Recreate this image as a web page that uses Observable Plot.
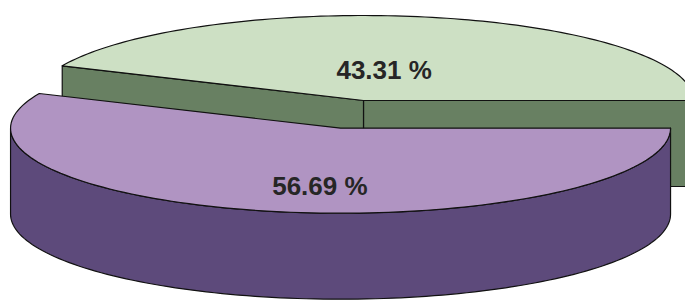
<!DOCTYPE html>
<html>
<head>
<meta charset="utf-8">
<script src="https://cdn.jsdelivr.net/npm/d3@7"></script>
<script src="https://cdn.jsdelivr.net/npm/@observablehq/plot@0.6"></script>
<style>
  html, body { margin: 0; padding: 0; background: #ffffff; }
  #chart svg { display: block; }
</style>
</head>
<body>
<div id="chart"></div>
<script>
// ---- data ----
const categories = ["A", "B"];
const values = [43.31, 56.69];
const labels = ["43.31 %", "56.69 %"];

// ---- styles ----
const topColors = ["#cde0c4", "#b094c2"];
const sideColors = ["#688062", "#5d4a7b"];
const explode = [0, 110];

// ---- layout (3D pie geometry) ----
const W = 685, H = 302;
const cx0 = 363, cy0 = 100;   // pie centre (top face)
const rx = 330, ry = 85;      // ellipse radii of the top face
const depth = 86;             // thickness of the pie

const total = d3.sum(values);
const TAU = 2 * Math.PI;

function pt(cx, cy, t, dz = 0) {
  return {x: cx + rx * Math.cos(t), y: cy - ry * Math.sin(t) + dz};
}
function arc(cx, cy, a, b, dz = 0, n = 120) {
  const pts = [];
  for (let i = 0; i <= n; i++) pts.push(pt(cx, cy, a + (b - a) * i / n, dz));
  return pts;
}

const marks = [];
let acc = 0;
values.forEach((v, i) => {
  const a = acc / total * TAU;
  acc += v;
  const b = acc / total * TAU;
  const mid = (a + b) / 2;
  const e = explode[i];
  const cx = cx0 + e * Math.cos(mid);
  const cy = cy0 - e * Math.sin(mid) * ry / rx;
  const C = {x: cx, y: cy};
  const Cd = {x: cx, y: cy + depth};
  const style = {x: "x", y: "y", fill: sideColors[i], stroke: "#111", strokeWidth: 1.2, strokeLinejoin: "round", curve: "linear-closed"};

  // radial side faces
  if (Math.cos(a) > 0) {
    const P = pt(cx, cy, a), Pd = pt(cx, cy, a, depth);
    marks.push(Plot.line([C, P, Pd, Cd], style));
  }
  if (Math.cos(b) < 0) {
    const P = pt(cx, cy, b), Pd = pt(cx, cy, b, depth);
    marks.push(Plot.line([C, P, Pd, Cd], style));
  }
  // outer curved side (front half only)
  const s = Math.max(a, Math.PI), t = Math.min(b, TAU);
  if (t > s) {
    const top = arc(cx, cy, s, t);
    const bot = arc(cx, cy, s, t, depth).reverse();
    marks.push(Plot.line([...top, ...bot], style));
  }
  // top face
  marks.push(Plot.line([C, ...arc(cx, cy, a, b), C], {...style, fill: topColors[i]}));

  // label
  const lx = cx + rx * 0.3 * Math.cos(mid);
  const ly = cy - ry * 0.36 * Math.sin(mid) + (Math.sin(mid) < 0 ? depth / 3 : 0);
  marks.push(Plot.text([{x: lx, y: ly, label: labels[i]}], {
    x: "x", y: "y", text: "label", fill: "#262626",
    fontSize: 26, fontWeight: "bold", fontFamily: "Liberation Sans, Arial, sans-serif",
    textAnchor: "middle", lineAnchor: "middle"
  }));
});

const chart = Plot.plot({
  width: W, height: H, margin: 0,
  x: {domain: [0, W], range: [0, W], axis: null},
  y: {domain: [0, H], range: [0, H], axis: null},
  style: {background: "#ffffff", overflow: "hidden"},
  marks
});
document.getElementById("chart").appendChild(chart);
</script>
</body>
</html>
